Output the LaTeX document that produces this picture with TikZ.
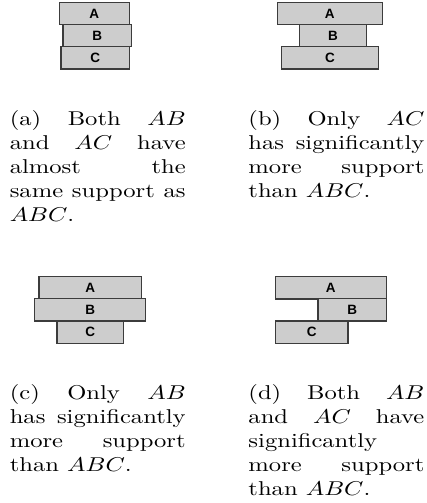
\documentclass[tikz,border=0pt]{standalone}
\usepackage{fontspec}
\newfontfamily\labelfont{Liberation Sans}
\definecolor{blkfill}{HTML}{CDCDCD}
\definecolor{blkline}{HTML}{3C3C3C}
\begin{document}
\begin{tikzpicture}[x=1pt,y=1pt,
  blk/.style={draw=blkline, fill=blkfill, line width=1.3pt, inner sep=0pt,
    minimum height=22.3pt, font=\labelfont\bfseries\fontsize{13.5}{14}\selectfont},
  captext/.style={anchor=north west, inner sep=0pt, text width=71.5pt, align=justify,
    font=\normalsize, transform shape}]
\useasboundingbox (0,0) rectangle (427,-503);

% block from x1 to x2, y1 to y2 (y measured downward)
\newcommand\blkat[6]{%
  \node[blk, minimum width={#3-#2}] (#1) at ({(#2+#3)/2},{-(#4+#5)/2}) {#6};}

% (a)
\blkat{aA}{59.3}{129.3}{2.7}{24.5}{A}
\blkat{aB}{63}{131.7}{24.5}{46.8}{B}
\blkat{aC}{61}{129.7}{46.8}{69}{C}
% (b)
\blkat{bA}{277.3}{382.3}{2.7}{24.7}{A}
\blkat{bB}{299.7}{366.3}{24.7}{47}{B}
\blkat{bC}{281.7}{378.3}{47}{69}{C}
% (c)
\blkat{cA}{39}{141.7}{276.7}{298.7}{A}
\blkat{cB}{34.7}{145.7}{298.7}{321}{B}
\blkat{cC}{57}{123.7}{321}{343}{C}
% (d)
\blkat{dA}{275.3}{386.3}{276.7}{298.7}{A}
\blkat{dB}{318}{386.3}{298.7}{321}{B}
\blkat{dC}{275.3}{348}{321}{343}{C}

% captions
\begin{scope}[shift={(9.3,-108.4)}, xscale=2.46, yscale=2]
  \node[captext] (capa) at (0,0) {\strut(a) Both $AB$\linebreak and $AC$ have\linebreak almost the\linebreak same support as\linebreak $ABC$.};
\end{scope}
\begin{scope}[shift={(248,-108.4)}, xscale=2.46, yscale=2]
  \node[captext] (capb) at (0,0) {\strut(b) Only $AC$\linebreak has significantly\linebreak more support\linebreak than $ABC$.};
\end{scope}
\begin{scope}[shift={(9.3,-381.8)}, xscale=2.46, yscale=2]
  \node[captext] (capc) at (0,0) {\strut(c) Only $AB$\linebreak has significantly\linebreak more support\linebreak than $ABC$.};
\end{scope}
\begin{scope}[shift={(248,-381.8)}, xscale=2.46, yscale=2]
  \node[captext] (capd) at (0,0) {\strut(d) Both $AB$\linebreak and $AC$ have\linebreak significantly\linebreak more support\linebreak than $ABC$.};
\end{scope}
\end{tikzpicture}
\end{document}
